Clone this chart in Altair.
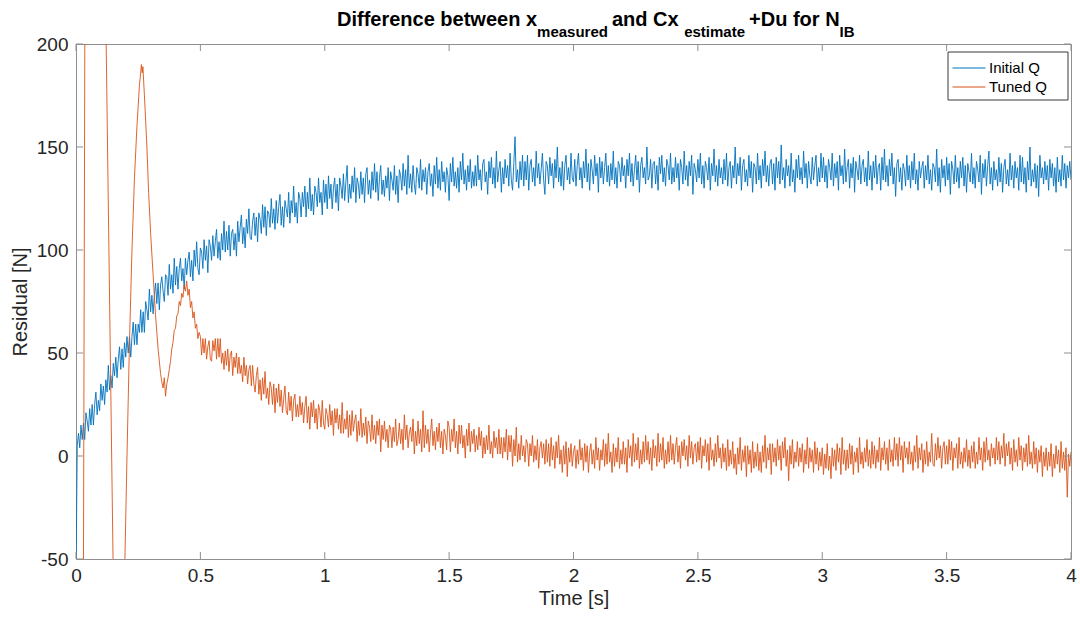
import altair as alt
import numpy as np
import pandas as pd

# ---------------- data ----------------
SERIES = ["Initial Q", "Tuned Q"]
COLORS = ["#0072BD", "#D95319"]
X_TICKS = [0, 0.5, 1, 1.5, 2, 2.5, 3, 3.5, 4]
Y_TICKS = [-50, 0, 50, 100, 150, 200]

GRID_DT = 0.005

# Initial Q: first sample, then regular samples t = 0.005 .. 4.000
BLUE_T0 = [0.0]
BLUE_V0 = [-60]
BLUE_V = [
    5, 11, 4, 15, 8, 16, 8, 21, 17, 12, 23, 15, 25, 15, 25, 31, 20, 27, 22, 35,
    27, 34, 25, 37, 31, 44, 32, 39, 33, 45, 39, 48, 38, 47, 53, 42, 52, 43, 55, 48,
    58, 50, 58, 48, 58, 65, 54, 64, 54, 64, 60, 71, 60, 70, 60, 75, 71, 66, 81, 70,
    78, 69, 78, 84, 74, 84, 71, 83, 87, 80, 75, 88, 87, 78, 93, 81, 88, 79, 96, 83,
    92, 81, 91, 96, 85, 91, 81, 96, 88, 95, 99, 87, 95, 85, 100, 92, 104, 91, 88, 101,
    99, 91, 105, 95, 102, 89, 105, 102, 95, 107, 97, 104, 110, 96, 104, 95, 108, 100, 114, 99,
    109, 100, 112, 97, 108, 110, 100, 108, 97, 114, 104, 111, 117, 103, 111, 101, 115, 108, 120, 106,
    105, 114, 118, 107, 116, 104, 118, 115, 108, 122, 111, 121, 107, 119, 118, 111, 125, 113, 120, 110,
    124, 113, 121, 127, 112, 121, 111, 124, 120, 116, 128, 113, 124, 118, 131, 116, 123, 113, 128, 125,
    116, 128, 121, 131, 116, 128, 120, 135, 119, 127, 117, 131, 128, 121, 135, 123, 128, 117, 134, 123,
    132, 120, 136, 125, 132, 120, 130, 135, 123, 132, 119, 135, 131, 125, 137, 124, 133, 141, 123, 132,
    125, 136, 128, 140, 123, 135, 132, 125, 138, 127, 135, 123, 137, 140, 127, 134, 125, 138, 129, 142,
    128, 138, 124, 135, 141, 127, 134, 126, 136, 130, 140, 124, 138, 134, 129, 141, 127, 136, 123, 139,
    136, 129, 142, 131, 139, 127, 146, 130, 137, 128, 141, 132, 127, 140, 137, 130, 144, 129, 139, 133,
    140, 127, 138, 142, 131, 137, 126, 141, 132, 145, 130, 139, 129, 143, 133, 138, 128, 140, 136, 124,
    142, 133, 145, 131, 138, 130, 140, 128, 143, 134, 147, 132, 139, 129, 141, 133, 144, 130, 138, 131,
    141, 131, 146, 134, 139, 129, 142, 144, 133, 138, 127, 143, 135, 145, 132, 140, 130, 148, 133, 139,
    143, 128, 140, 132, 144, 135, 141, 131, 147, 134, 129, 142, 155, 133, 139, 130, 143, 134, 146, 131,
    143, 134, 146, 129, 141, 144, 133, 140, 131, 148, 135, 142, 132, 139, 147, 134, 127, 143, 141, 132,
    145, 136, 142, 130, 144, 135, 150, 133, 140, 131, 143, 129, 141, 146, 134, 140, 132, 147, 135, 133,
    144, 131, 141, 147, 134, 140, 130, 143, 135, 149, 133, 142, 129, 144, 139, 132, 146, 136, 142, 128,
    145, 135, 143, 132, 140, 147, 133, 141, 131, 142, 134, 148, 132, 140, 130, 143, 141, 133, 145, 136,
    141, 130, 144, 136, 147, 133, 142, 131, 139, 146, 134, 143, 128, 141, 145, 135, 140, 132, 150, 134,
    136, 144, 130, 142, 143, 132, 141, 129, 145, 137, 146, 133, 140, 131, 144, 141, 134, 147, 132, 140,
    133, 145, 135, 142, 129, 144, 140, 132, 148, 134, 141, 131, 143, 136, 146, 127, 142, 139, 133, 144,
    135, 147, 132, 141, 130, 143, 140, 134, 145, 129, 142, 136, 149, 133, 141, 131, 144, 135, 140, 132,
    144, 134, 147, 131, 140, 143, 130, 141, 135, 150, 132, 142, 136, 145, 129, 141, 144, 133, 139, 131,
    146, 135, 143, 128, 142, 140, 132, 147, 134, 141, 130, 144, 136, 148, 133, 141, 131, 142, 144, 132,
    142, 129, 145, 135, 143, 132, 151, 134, 140, 130, 144, 136, 141, 131, 147, 133, 139, 128, 144, 135,
    146, 134, 140, 132, 148, 135, 142, 130, 143, 136, 132, 145, 134, 141, 146, 131, 140, 133, 147, 135,
    145, 133, 141, 130, 144, 140, 134, 147, 131, 142, 135, 143, 129, 146, 136, 141, 132, 149, 133, 140,
    144, 130, 142, 135, 145, 128, 143, 139, 134, 146, 132, 141, 144, 133, 140, 131, 148, 134, 141, 129,
    143, 135, 146, 132, 140, 142, 129, 145, 134, 149, 133, 141, 131, 144, 136, 147, 132, 140, 126, 142,
    144, 133, 140, 129, 142, 139, 131, 146, 134, 141, 130, 143, 134, 147, 132, 139, 129, 143, 135, 140,
    143, 130, 141, 134, 146, 132, 139, 129, 142, 140, 133, 149, 131, 140, 128, 144, 135, 141, 131, 145,
    134, 142, 127, 143, 139, 132, 146, 133, 140, 130, 143, 135, 145, 131, 141, 128, 142, 138, 133, 147,
    132, 140, 130, 143, 139, 133, 146, 127, 142, 135, 144, 131, 141, 148, 132, 140, 129, 143, 134, 139,
    131, 145, 133, 142, 128, 140, 144, 132, 139, 131, 147, 134, 141, 130, 143, 135, 140, 129, 146, 133,
    145, 132, 140, 128, 143, 134, 150, 131, 139, 133, 142, 130, 141, 126, 146, 135, 140, 132, 143, 134,
    141, 129, 144, 135, 142, 131, 140, 128, 145, 133, 139, 131, 146, 134, 142, 130, 141, 135, 143, 134,
]

# Tuned Q: transient (t < 0.5) then regular samples t = 0.500 .. 4.000
ORANGE_T0 = [0.000, 0.030, 0.036, 0.075, 0.118, 0.150, 0.170, 0.195, 0.205, 0.215,
             0.225, 0.235, 0.245, 0.255, 0.260, 0.263, 0.266, 0.269, 0.272, 0.278,
             0.285, 0.292, 0.300, 0.310, 0.320, 0.330, 0.340, 0.345, 0.350, 0.355,
             0.360, 0.365, 0.370, 0.375, 0.380, 0.385, 0.390, 0.395, 0.400, 0.405,
             0.410, 0.415, 0.420, 0.425, 0.430, 0.435, 0.440, 0.445, 0.450, 0.455,
             0.460, 0.465, 0.470, 0.475, 0.480, 0.485, 0.490, 0.495]
ORANGE_V0 = [-400, -55, 230, 650, 230, -60, -130, -60, 0, 55,
             100, 135, 160, 180, 186, 190, 186, 189, 182, 168,
             150, 128, 108, 88, 68, 52, 40, 36, 33, 38,
             29, 35, 38, 42, 46, 52, 55, 61, 62, 68,
             69, 75, 73, 79, 77, 83, 80, 85, 78, 81,
             72, 75, 67, 70, 62, 64, 57, 60]
ORANGE_START = 0.50
ORANGE_V = [
    58, 49, 57, 50, 57, 47, 53, 56, 47, 46, 56, 51, 57, 47, 57, 48, 57, 45, 50, 42,
    51, 44, 52, 41, 49, 51, 39, 48, 43, 50, 40, 48, 40, 44, 36, 48, 39, 44, 35, 42,
    44, 34, 44, 35, 31, 39, 43, 30, 37, 27, 38, 30, 41, 28, 33, 25, 36, 33, 25, 35,
    21, 33, 26, 35, 24, 32, 21, 28, 34, 22, 20, 31, 22, 29, 17, 27, 30, 19, 25, 19,
    29, 20, 26, 16, 24, 29, 16, 24, 13, 26, 19, 27, 16, 23, 13, 25, 22, 14, 27, 16,
    13, 23, 20, 14, 25, 15, 22, 10, 23, 16, 23, 13, 20, 11, 26, 11, 18, 13, 22, 9,
    20, 10, 22, 12, 17, 20, 7, 17, 10, 23, 9, 16, 10, 19, 6, 17, 14, 7, 20, 8,
    15, 6, 17, 10, 18, 2, 15, 8, 17, 7, 13, 4, 15, 13, 4, 14, 7, 18, 5, 8,
    16, 6, 13, 3, 20, 8, 15, 4, 11, 14, 7, 18, 1, 12, 5, 17, 6, 13, 2, 22,
    4, 15, 6, 13, 2, 11, 18, 5, 12, 3, 14, 7, 16, 4, 12, 1, 13, 10, 3, 17,
    14, 2, 13, 7, 18, 4, 12, 1, 15, 6, 15, 4, 10, -1, 13, 5, 16, 2, 12, 6,
    13, 2, 10, 3, 14, 5, 12, -1, 9, 1, 10, 3, 15, 1, 7, -1, 12, 4, 9, 1,
    13, 1, 9, -1, 9, 2, 13, -2, 10, 2, 10, -5, 8, 0, 14, -3, 6, -2, 10, 0,
    5, -3, 8, 6, -5, 6, 0, 10, -3, 5, -2, 8, -6, 4, 7, -1, 6, -4, 8, -3,
    6, -5, 9, -2, 5, -6, 7, -1, 10, -4, 3, -8, 5, -4, 7, -10, 4, -3, 6, -5,
    2, 5, -6, 3, -4, 8, -2, 4, -7, 6, -3, 5, -8, 2, 6, -4, 3, -6, 9, -2,
    4, -7, 3, -2, 8, -5, 6, -4, 11, -3, 2, -8, 6, -5, 4, -3, 9, -6, 3, -4,
    7, -4, 4, -8, 8, -1, 5, -5, 11, -3, 6, -2, 9, -6, 3, -4, 7, -3, 10, -2,
    7, -4, 4, -7, 8, -1, 5, -5, 11, -3, 6, -2, 9, -6, 3, -4, 7, -3, 10, -2,
    6, -4, 4, 9, -3, 5, -6, 7, 0, 8, -2, 5, -5, 10, -1, 7, -4, 4, 6, -3,
    7, -2, 9, -6, 5, 0, 8, -3, 6, -7, 9, -2, 3, -5, 6, -3, 10, -1, 4, -6,
    6, -3, 4, -7, 8, -5, 3, -4, 7, -6, 1, -9, 4, -4, 9, -7, 3, -3, 5, -10,
    5, -4, 3, -8, 7, -6, 2, -5, 6, -7, 2, -8, 5, -3, 10, -6, 4, -2, 6, -9,
    6, -3, 4, -5, 8, -2, 5, -7, 7, -1, 9, -5, 3, -12, 5, -4, 8, -6, 2, -3,
    7, -5, 4, -3, 6, -8, 3, -4, 9, -6, 4, -3, 3, -8, 7, -4, 4, -7, 2, -5,
    4, -9, 1, -6, 6, -7, 0, -11, 4, -5, 3, -7, 6, -3, 4, -9, 9, -4, 3, -7,
    3, -6, 6, -4, 5, -9, 2, -3, 4, -8, 9, -4, 2, -6, 4, -3, 8, -5, 3, -6,
    7, -4, 5, -6, 3, -3, 9, -7, 4, -2, 7, -4, 4, -7, 8, -3, 3, -5, 9, -2,
    6, -5, 9, -2, 5, -8, 7, -1, 4, -4, 7, -4, 2, -7, 5, -3, 10, -6, 4, -2,
    6, -8, 3, -4, 7, -5, 2, -3, 11, -4, -5, 6, -2, 9, -1, 5, -6, 4, 7, -4,
    5, -4, 8, -2, 7, -7, 4, -1, 6, -6, 9, -4, 2, -6, 4, -3, 8, -5, 3, -6,
    5, -3, 7, -6, 2, -4, 9, -2, 4, -7, 7, -3, 9, -2, 3, -5, 6, -1, 4, -4,
    9, -2, 7, -4, 5, -1, 11, -5, 6, 0, 7, -4, 4, -7, 8, -3, 3, -5, 9, -2,
    5, -7, 4, -3, 6, -5, 10, -4, 2, -6, 7, -4, 4, -8, 3, -3, 5, -10, 2, -5,
    4, -7, 2, -5, 6, -10, 1, -6, 5, -4, 3, -8, 7, -6, 2, -7, 4, -20, 1, -5,
    2,
]

# ---------------- table ----------------
blue_t = list(BLUE_T0) + list(np.round(GRID_DT * (np.arange(len(BLUE_V)) + 1), 4))
blue_v = list(BLUE_V0) + list(BLUE_V)
orange_t = list(ORANGE_T0) + list(np.round(ORANGE_START + GRID_DT * np.arange(len(ORANGE_V)), 4))
orange_v = list(ORANGE_V0) + list(ORANGE_V)

df = pd.DataFrame({
    "t": blue_t + orange_t,
    "v": blue_v + orange_v,
    "series": [SERIES[0]] * len(blue_t) + [SERIES[1]] * len(orange_t),
})

# ---------------- style ----------------
W, H = 995, 515
FONT = "Liberation Sans"
TXT = "#262626"
FRAME = "#8f8f8f"
TICK_LEN = 7

x_scale = alt.Scale(domain=[0, 4], nice=False, zero=False)
y_scale = alt.Scale(domain=[-50, 200], nice=False, zero=False)

x_axis = alt.Axis(values=X_TICKS, labelExpr="'' + datum.value", title="Time [s]",
                  ticks=False, domain=False, grid=False, labelFlush=False, labelOverlap=False,
                  labelFont=FONT, labelFontSize=19, labelColor=TXT, labelPadding=7,
                  titleFont=FONT, titleFontSize=20, titleFontWeight="normal",
                  titleColor=TXT, titlePadding=3)
y_axis = alt.Axis(values=Y_TICKS, labelExpr="'' + datum.value", title="Residual [N]",
                  ticks=False, domain=False, grid=False, labelFlush=False, labelOverlap=False,
                  labelFont=FONT, labelFontSize=19, labelColor=TXT, labelPadding=8,
                  titleFont=FONT, titleFontSize=20, titleFontWeight="normal",
                  titleColor=TXT, titlePadding=6)

lines = alt.Chart(df).mark_line(strokeWidth=0.9, clip=True).encode(
    x=alt.X("t:Q", scale=x_scale, axis=x_axis),
    y=alt.Y("v:Q", scale=y_scale, axis=y_axis),
    color=alt.Color("series:N",
                    scale=alt.Scale(domain=SERIES, range=COLORS),
                    legend=alt.Legend(title=None, orient="none", legendX=872, legendY=8,
                                      direction="vertical", symbolType="M-1.65,0L1.65,0",
                                      symbolSize=400, symbolStrokeWidth=1.2,
                                      symbolOffset=5,
                                      labelFont=FONT, labelFontSize=15, labelColor="#000000",
                                      padding=5, rowPadding=0, labelOffset=9)),
    order=alt.Order("t:Q"),
)

# legend frame (MATLAB legends are wider than their content)
legend_box = alt.Chart(pd.DataFrame({"k": [0]})).mark_rect(
    fill="#ffffff", stroke="#3a3a3a", strokeWidth=1
).encode(x=alt.value(872), x2=alt.value(992), y=alt.value(8), y2=alt.value(56))

xt = pd.DataFrame({"t": X_TICKS})
yt = pd.DataFrame({"v": Y_TICKS})
tick_bottom = alt.Chart(xt).mark_rule(color=FRAME, strokeWidth=1).encode(
    x=alt.X("t:Q", scale=x_scale, axis=x_axis), y=alt.value(H), y2=alt.value(H - TICK_LEN))
tick_top = alt.Chart(xt).mark_rule(color=FRAME, strokeWidth=1).encode(
    x=alt.X("t:Q", scale=x_scale, axis=x_axis), y=alt.value(0), y2=alt.value(TICK_LEN))
tick_left = alt.Chart(yt).mark_rule(color=FRAME, strokeWidth=1).encode(
    y=alt.Y("v:Q", scale=y_scale, axis=y_axis), x=alt.value(0), x2=alt.value(TICK_LEN))
tick_right = alt.Chart(yt).mark_rule(color=FRAME, strokeWidth=1).encode(
    y=alt.Y("v:Q", scale=y_scale, axis=y_axis), x=alt.value(W), x2=alt.value(W - TICK_LEN))

# ---------------- title with subscripts ----------------
MAIN_FS, SUB_FS = 20, 15
SUB_GAP = 4
TITLE_PIECES = [
    ("Difference between x", False, 10.003),
    ("measured", True, 4.724),
    (" and Cx", False, 3.612),
    ("estimate", True, 4.057),
    ("+Du for N", False, 4.528),
    ("IB", True, 1.0),
]
title_layers = []
px = 261
for text, sub, em in TITLE_PIECES:
    fs = SUB_FS if sub else MAIN_FS
    py = -7 if sub else -18
    title_layers.append(
        alt.Chart(pd.DataFrame({"s": [text]})).mark_text(
            align="left", baseline="alphabetic", font=FONT, fontSize=fs,
            fontWeight="bold", color="#000000"
        ).encode(text="s:N", x=alt.value(px), y=alt.value(py))
    )
    px += em * fs + (SUB_GAP if sub else 0)

chart = alt.layer(lines, legend_box, tick_bottom, tick_top, tick_left, tick_right,
                  *title_layers).properties(
    width=W, height=H,
    padding={"left": 76, "top": 44, "right": 9, "bottom": 60},
    autosize=alt.AutoSizeParams(type="none"),
    background="#ffffff",
).configure_view(stroke=FRAME, strokeWidth=1)

chart.save("out.html", embed_options={"renderer": "svg", "actions": False})
